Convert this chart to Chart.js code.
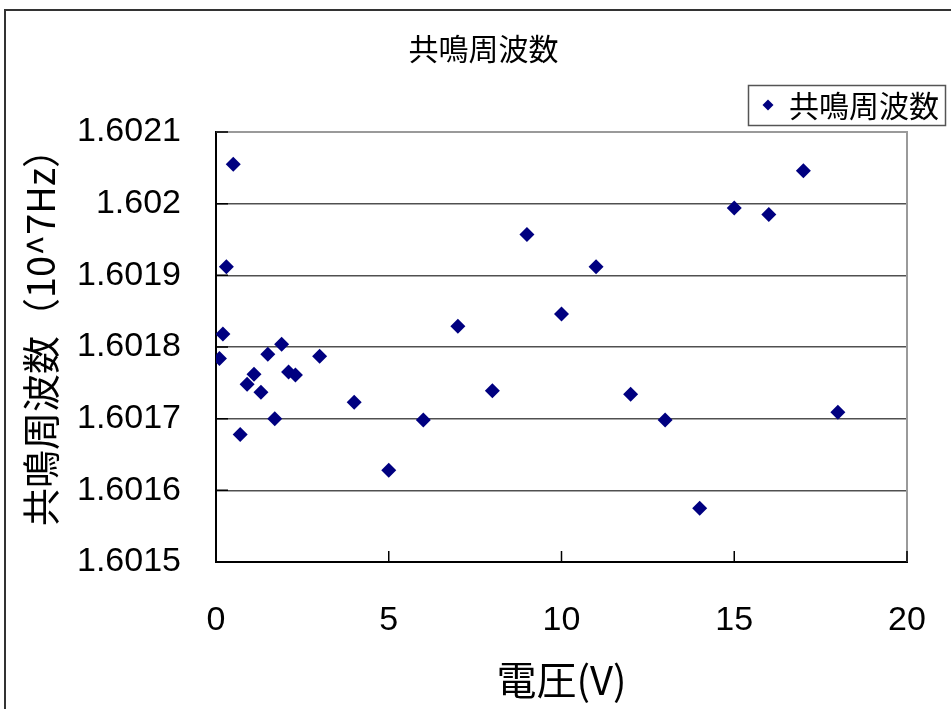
<!DOCTYPE html>
<html>
<head>
<meta charset="utf-8">
<script src="https://cdn.jsdelivr.net/npm/chart.js@4/dist/chart.umd.min.js"></script>
<style>
  html, body { margin: 0; padding: 0; background: #fff; }
  #wrap { width: 951px; height: 709px; position: relative; }
</style>
</head>
<body>
<div id="wrap"><canvas id="c" width="951" height="709"></canvas></div>
<script>
// ---- data ----
const voltage = [0.1, 0.2, 0.3, 0.5, 0.7, 0.9, 1.1, 1.3, 1.5, 1.7, 1.9, 2.1, 2.3, 3, 4, 5, 6, 7, 8, 9, 10, 11, 12, 13, 14, 15, 16, 17, 18];
const frequency = [1.601784, 1.601818, 1.601912, 1.602055, 1.601678, 1.601748, 1.601762, 1.601737, 1.601790, 1.601700, 1.601804, 1.601765, 1.601761, 1.601787, 1.601723, 1.601628, 1.601698, 1.601829, 1.601739, 1.601957, 1.601846, 1.601912, 1.601734, 1.601698, 1.601575, 1.601994, 1.601985, 1.602046, 1.601709];
const xTickValues = [0, 5, 10, 15, 20];
const yTickValues = [1.6015, 1.6016, 1.6017, 1.6018, 1.6019, 1.602, 1.6021];
const seriesLabel = '共鳴周波数';
const chartTitle = '共鳴周波数';
const xTitle = '電圧(V)';
const yTitle = '　共鳴周波数（10^7Hz）';

const points = voltage.map((v, i) => ({ x: v, y: frequency[i] }));
const CJK = '"Noto Sans CJK JP", "Noto Sans", sans-serif';
const NUM = '"Liberation Sans", Arial, sans-serif';
const MARK = '#000080';

const decorPlugin = {
  id: 'decor',
  beforeDraw(chart) {
    const ctx = chart.ctx;
    ctx.save();
    ctx.fillStyle = '#fff';
    ctx.fillRect(0, 0, chart.width, chart.height);
    ctx.strokeStyle = '#333';
    ctx.lineWidth = 2;
    ctx.strokeRect(5, 10, 1200, 1200);
    ctx.restore();
  },
  afterDatasetsDraw(chart) {
    const ctx = chart.ctx;
    const a = chart.chartArea;
    const xs = chart.scales.x, ys = chart.scales.y;
    ctx.save();
    ctx.strokeStyle = '#9a9a9a';
    ctx.lineWidth = 2;
    ctx.beginPath();
    ctx.moveTo(a.left, a.top);
    ctx.lineTo(a.right, a.top);
    ctx.lineTo(a.right, a.bottom);
    ctx.stroke();
    ctx.strokeStyle = '#000';
    ctx.lineWidth = 1.5;
    ctx.beginPath();
    xTickValues.forEach(v => {
      const px = xs.getPixelForValue(v);
      ctx.moveTo(px, a.bottom);
      ctx.lineTo(px, a.bottom - 11);
    });
    yTickValues.forEach(v => {
      const py = ys.getPixelForValue(v);
      ctx.moveTo(a.left, py);
      ctx.lineTo(a.left + 12, py);
    });
    ctx.stroke();
    ctx.restore();
  },
  afterDraw(chart) {
    const ctx = chart.ctx;
    const ds = chart.data.datasets[0];
    ctx.save();
    const bx = 748, by = 85, bw = 197, bh = 40;
    ctx.strokeStyle = '#555';
    ctx.lineWidth = 1.5;
    ctx.strokeRect(bx + 0.5, by + 0.5, bw, bh);
    const cx = 768, cy = 105, r = 5.5;
    ctx.fillStyle = MARK;
    ctx.beginPath();
    ctx.moveTo(cx, cy - r);
    ctx.lineTo(cx + r, cy);
    ctx.lineTo(cx, cy + r);
    ctx.lineTo(cx - r, cy);
    ctx.closePath();
    ctx.fill();
    ctx.fillStyle = '#000';
    ctx.font = '30px ' + CJK;
    ctx.textBaseline = 'middle';
    ctx.textAlign = 'left';
    ctx.fillText(ds.label, 789, 106);
    ctx.restore();
  }
};

new Chart(document.getElementById('c'), {
  type: 'scatter',
  data: {
    datasets: [{
      label: seriesLabel,
      data: points,
      pointStyle: 'rectRot',
      pointRadius: 7.5,
      pointHoverRadius: 7.5,
      backgroundColor: MARK,
      borderColor: MARK,
      borderWidth: 0
    }]
  },
  options: {
    responsive: false,
    animation: false,
    events: [],
    layout: { padding: { left: 60, right: 44, top: 0, bottom: 0 } },
    plugins: {
      legend: { display: false },
      tooltip: { enabled: false },
      title: {
        display: true,
        text: chartTitle,
        color: '#000',
        font: { family: CJK, size: 30, weight: 'normal', lineHeight: 1.2 },
        padding: { top: 31, bottom: 65 }
      }
    },
    scales: {
      x: {
        type: 'linear',
        min: 0, max: 20,
        afterBuildTicks: s => { s.ticks = xTickValues.map(v => ({ value: v })); },
        afterFit: s => { s.height = 147; s.paddingLeft = 0; s.paddingRight = 0; },
        grid: { display: true, drawOnChartArea: false, drawTicks: false, color: 'rgba(0,0,0,0)' },
        border: { display: true, color: '#000', width: 2 },
        ticks: {
          color: '#000',
          font: { family: NUM, size: 34, lineHeight: 1.2 },
          padding: 38,
          maxRotation: 0,
          callback: v => String(v)
        },
        title: {
          display: true,
          text: xTitle,
          color: '#000',
          font: { family: CJK, size: 40, lineHeight: 1.2 },
          padding: { top: 0, bottom: 5 }
        }
      },
      y: {
        type: 'linear',
        min: 1.6015, max: 1.6021,
        afterBuildTicks: s => { s.ticks = yTickValues.map(v => ({ value: v })); },
        afterFit: s => { s.width = 156; },
        grid: { color: '#505050', lineWidth: 1.5, drawTicks: false },
        border: { display: true, color: '#000', width: 2 },
        ticks: {
          color: '#000',
          font: { family: NUM, size: 34, lineHeight: 1.2 },
          padding: 35,
          callback: v => String(Number(Number(v).toFixed(4)))
        },
        title: {
          display: true,
          text: yTitle,
          color: '#000',
          font: { family: CJK, size: 38, lineHeight: 1.2 },
          padding: { top: -41.8, bottom: 0 }
        }
      }
    }
  },
  plugins: [decorPlugin]
});
</script>
</body>
</html>
